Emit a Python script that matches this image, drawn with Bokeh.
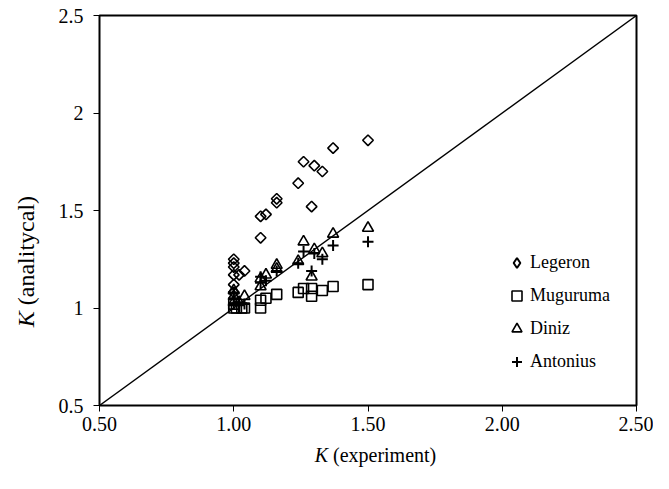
import numpy as np
from bokeh.plotting import figure
from bokeh.models import (Range1d, Label, Legend, LegendItem, NumeralTickFormatter, FixedTicker)
from bokeh.embed import file_html
from bokeh.resources import INLINE

# ---- data ----
leg_x = [1.00, 1.00, 1.00, 1.00, 1.02, 1.04, 1.00, 1.00, 1.10, 1.10, 1.12, 1.16, 1.16, 1.24, 1.26, 1.29, 1.30, 1.33, 1.37, 1.50]
leg_y = [1.25, 1.23, 1.21, 1.17, 1.17, 1.19, 1.12, 1.08, 1.36, 1.47, 1.48, 1.54, 1.56, 1.64, 1.75, 1.52, 1.73, 1.70, 1.82, 1.86]

mug_x = [1.00, 1.01, 1.03, 1.04, 1.00, 1.10, 1.10, 1.12, 1.16, 1.24, 1.26, 1.29, 1.29, 1.33, 1.37, 1.50]
mug_y = [1.00, 1.00, 1.00, 1.00, 1.02, 1.00, 1.04, 1.05, 1.07, 1.08, 1.10, 1.10, 1.06, 1.09, 1.11, 1.12]

din_x = [1.00, 1.00, 1.04, 1.02, 1.00, 1.10, 1.10, 1.12, 1.16, 1.16, 1.24, 1.26, 1.29, 1.30, 1.33, 1.37, 1.50]
din_y = [1.09, 1.06, 1.06, 1.03, 1.03, 1.11, 1.15, 1.17, 1.20, 1.22, 1.24, 1.34, 1.16, 1.30, 1.28, 1.38, 1.41]

ant_x = [1.00, 1.00, 1.02, 1.04, 1.00, 1.10, 1.10, 1.12, 1.16, 1.24, 1.26, 1.29, 1.30, 1.33, 1.37, 1.50]
ant_y = [1.08, 1.05, 1.03, 1.02, 1.02, 1.13, 1.16, 1.14, 1.19, 1.23, 1.29, 1.19, 1.28, 1.25, 1.32, 1.34]

ref_line = [0.5, 2.5]
x_ticks = [0.5, 1.0, 1.5, 2.0, 2.5]
y_ticks = [0.5, 1.0, 1.5, 2.0, 2.5]
series_names = ["Legeron", "Muguruma", "Diniz", "Antonius"]
x_title = ("K", "(experiment)")
y_title = ("K", "(analitycal)")

FONT = "Liberation Serif"

p = figure(width=653, height=473, output_backend="svg", toolbar_location=None,
           x_range=Range1d(0.5, 2.5), y_range=Range1d(0.5, 2.5),
           min_border_left=99, min_border_right=17, min_border_top=15, min_border_bottom=68)
p.xgrid.visible = False
p.ygrid.visible = False
p.outline_line_color = "black"
p.outline_line_width = 2
p.background_fill_color = "white"
p.border_fill_color = "white"

for ax in (p.xaxis[0], p.yaxis[0]):
    ax.axis_line_color = None
    ax.major_tick_in = 0
    ax.major_tick_out = 6
    ax.major_tick_line_color = "black"
    ax.major_tick_line_width = 1
    ax.minor_tick_line_color = None
    ax.major_label_text_font = FONT
    ax.major_label_text_font_size = "20px"
    ax.major_label_text_color = "black"

p.xaxis.ticker = FixedTicker(ticks=x_ticks)
p.yaxis.ticker = FixedTicker(ticks=y_ticks)
p.xaxis.formatter = NumeralTickFormatter(format="0.00")
p.yaxis.formatter = NumeralTickFormatter(format="0.[0]")
p.xaxis.major_label_standoff = 5
p.yaxis.major_label_standoff = 10

p.line(ref_line, ref_line, line_color="black", line_width=1.4)

r_leg = p.scatter(leg_x, leg_y, marker="square", angle=np.pi / 4, size=7.5,
                  fill_color=None, line_color="black", line_width=1.6)
r_mug = p.scatter(mug_x, mug_y, marker="square", size=10,
                  fill_color=None, line_color="black", line_width=1.6)
r_din = p.scatter(din_x, din_y, marker="triangle", size=11,
                  fill_color=None, line_color="black", line_width=1.6)
r_ant = p.scatter(ant_x, ant_y, marker="cross", size=11,
                  fill_color=None, line_color="black", line_width=2)

# legend key for Legeron: a diamond marker on a range where nothing falls inside the frame
p.extra_x_ranges = {"key": Range1d(100, 101)}
r_leg_key = p.scatter(leg_x, leg_y, x_range_name="key", marker="diamond", size=12,
                      fill_color=None, line_color="black", line_width=2)

legend = Legend(items=[LegendItem(label=n, renderers=[r]) for n, r in
                       zip(series_names, [r_leg_key, r_mug, r_din, r_ant])],
                location=(405, 31), padding=0, margin=0, spacing=8,
                glyph_height=25, glyph_width=25, label_height=25, label_standoff=1,
                border_line_color=None, background_fill_alpha=0,
                label_text_font=FONT, label_text_font_size="18px", label_text_color="black")
p.add_layout(legend, "center")

# axis titles with italic K, placed in side panels so that they are not clipped to the frame
xk_x, xr_x, xt_y = 1.351, 1.3696, 0.2436
yt_x, yk_y, yr_y = 0.2281, 0.9836, 1.0144
p.add_layout(Label(x=xk_x, y=xt_y, text=x_title[0],
                   text_font=FONT, text_font_style="italic", text_font_size="20px",
                   text_align="right", text_baseline="middle", text_color="black"), "right")
p.add_layout(Label(x=xr_x, y=xt_y, text=x_title[1],
                   text_font=FONT, text_font_size="20px",
                   text_align="left", text_baseline="middle", text_color="black"), "below")
p.add_layout(Label(x=yt_x, y=yk_y, text=y_title[0], angle=np.pi / 2,
                   text_font=FONT, text_font_style="italic", text_font_size="24px",
                   text_align="right", text_baseline="middle", text_color="black"), "left")
p.add_layout(Label(x=yt_x, y=yr_y, text=y_title[1], angle=np.pi / 2,
                   text_font=FONT, text_font_size="24px",
                   text_align="left", text_baseline="middle", text_color="black"), "left")

open("out.html", "w").write(file_html(p, INLINE))
